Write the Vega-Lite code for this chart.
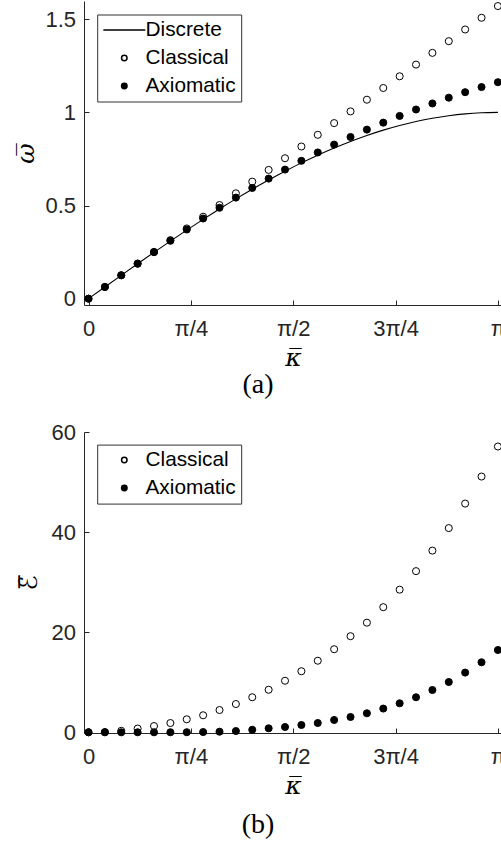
{
  "$schema": "https://vega.github.io/schema/vega-lite/v6.json",
  "padding": {"left": 13, "top": 0, "right": -4, "bottom": 0},
  "autosize": {"type": "pad"},
  "background": "white",
  "spacing": 127,
  "bounds": "flush",
  "resolve": {
    "scale": {"shape": "independent", "fill": "independent", "x": "independent", "y": "independent"},
    "legend": {"shape": "independent", "fill": "independent"}
  },
  "config": {
    "view": {"stroke": null},
    "axis": {
      "grid": false,
      "domainColor": "#262626",
      "tickColor": "#262626",
      "labelColor": "#262626",
      "labelFont": "Liberation Sans",
      "labelFontSize": 22,
      "tickSize": -5,
      "domainWidth": 1,
      "tickWidth": 1,
      "titleFont": "DejaVu Serif",
      "titleFontStyle": "italic",
      "titleFontWeight": "normal",
      "titleFontSize": 25,
      "titleColor": "black",
      "labelFlush": false
    },
    "axisX": {"labelPadding": 18.7, "titlePadding": 6},
    "axisY": {"labelPadding": 13.5},
    "legend": {
      "orient": "none",
      "title": null,
      "strokeColor": "#333333",
      "fillColor": "white",
      "padding": 5,
      "rowPadding": 6,
      "symbolSize": 30,
      "symbolOffset": 11.7,
      "labelOffset": 10.8,
      "labelFont": "Liberation Sans",
      "labelFontSize": 20.8,
      "labelColor": "black"
    },
    "title": {
      "orient": "bottom",
      "font": "Liberation Serif",
      "fontSize": 28,
      "fontWeight": "normal",
      "color": "black",
      "dx": -35,
      "offset": 8,
      "anchor": "middle"
    }
  },
  "datasets": {
    "omega": [
      {"k": 0, "series": "Discrete", "w": 0},
      {"k": 0.04, "series": "Discrete", "w": 0.0628},
      {"k": 0.08, "series": "Discrete", "w": 0.1253},
      {"k": 0.12, "series": "Discrete", "w": 0.1874},
      {"k": 0.16, "series": "Discrete", "w": 0.2487},
      {"k": 0.2, "series": "Discrete", "w": 0.309},
      {"k": 0.24, "series": "Discrete", "w": 0.3681},
      {"k": 0.28, "series": "Discrete", "w": 0.4258},
      {"k": 0.32, "series": "Discrete", "w": 0.4818},
      {"k": 0.36, "series": "Discrete", "w": 0.5358},
      {"k": 0.4, "series": "Discrete", "w": 0.5878},
      {"k": 0.44, "series": "Discrete", "w": 0.6374},
      {"k": 0.48, "series": "Discrete", "w": 0.6845},
      {"k": 0.52, "series": "Discrete", "w": 0.729},
      {"k": 0.56, "series": "Discrete", "w": 0.7705},
      {"k": 0.6, "series": "Discrete", "w": 0.809},
      {"k": 0.64, "series": "Discrete", "w": 0.8443},
      {"k": 0.68, "series": "Discrete", "w": 0.8763},
      {"k": 0.72, "series": "Discrete", "w": 0.9048},
      {"k": 0.76, "series": "Discrete", "w": 0.9298},
      {"k": 0.8, "series": "Discrete", "w": 0.9511},
      {"k": 0.84, "series": "Discrete", "w": 0.9686},
      {"k": 0.88, "series": "Discrete", "w": 0.9823},
      {"k": 0.92, "series": "Discrete", "w": 0.9921},
      {"k": 0.96, "series": "Discrete", "w": 0.998},
      {"k": 1, "series": "Discrete", "w": 1},
      {"k": 0, "series": "Classical", "w": 0},
      {"k": 0.04, "series": "Classical", "w": 0.0628},
      {"k": 0.08, "series": "Classical", "w": 0.1257},
      {"k": 0.12, "series": "Classical", "w": 0.1885},
      {"k": 0.16, "series": "Classical", "w": 0.2513},
      {"k": 0.2, "series": "Classical", "w": 0.3142},
      {"k": 0.24, "series": "Classical", "w": 0.377},
      {"k": 0.28, "series": "Classical", "w": 0.4398},
      {"k": 0.32, "series": "Classical", "w": 0.5027},
      {"k": 0.36, "series": "Classical", "w": 0.5655},
      {"k": 0.4, "series": "Classical", "w": 0.6283},
      {"k": 0.44, "series": "Classical", "w": 0.6912},
      {"k": 0.48, "series": "Classical", "w": 0.754},
      {"k": 0.52, "series": "Classical", "w": 0.8168},
      {"k": 0.56, "series": "Classical", "w": 0.8796},
      {"k": 0.6, "series": "Classical", "w": 0.9425},
      {"k": 0.64, "series": "Classical", "w": 1.0053},
      {"k": 0.68, "series": "Classical", "w": 1.0681},
      {"k": 0.72, "series": "Classical", "w": 1.131},
      {"k": 0.76, "series": "Classical", "w": 1.1938},
      {"k": 0.8, "series": "Classical", "w": 1.2566},
      {"k": 0.84, "series": "Classical", "w": 1.3195},
      {"k": 0.88, "series": "Classical", "w": 1.3823},
      {"k": 0.92, "series": "Classical", "w": 1.4451},
      {"k": 0.96, "series": "Classical", "w": 1.508},
      {"k": 1, "series": "Classical", "w": 1.5708},
      {"k": 0, "series": "Axiomatic", "w": 0},
      {"k": 0.04, "series": "Axiomatic", "w": 0.0628},
      {"k": 0.08, "series": "Axiomatic", "w": 0.1255},
      {"k": 0.12, "series": "Axiomatic", "w": 0.1876},
      {"k": 0.16, "series": "Axiomatic", "w": 0.2495},
      {"k": 0.2, "series": "Axiomatic", "w": 0.3108},
      {"k": 0.24, "series": "Axiomatic", "w": 0.3712},
      {"k": 0.28, "series": "Axiomatic", "w": 0.4305},
      {"k": 0.32, "series": "Axiomatic", "w": 0.488},
      {"k": 0.36, "series": "Axiomatic", "w": 0.5425},
      {"k": 0.4, "series": "Axiomatic", "w": 0.5945},
      {"k": 0.44, "series": "Axiomatic", "w": 0.6445},
      {"k": 0.48, "series": "Axiomatic", "w": 0.693},
      {"k": 0.52, "series": "Axiomatic", "w": 0.74},
      {"k": 0.56, "series": "Axiomatic", "w": 0.785},
      {"k": 0.6, "series": "Axiomatic", "w": 0.827},
      {"k": 0.64, "series": "Axiomatic", "w": 0.868},
      {"k": 0.68, "series": "Axiomatic", "w": 0.9075},
      {"k": 0.72, "series": "Axiomatic", "w": 0.945},
      {"k": 0.76, "series": "Axiomatic", "w": 0.981},
      {"k": 0.8, "series": "Axiomatic", "w": 1.0155},
      {"k": 0.84, "series": "Axiomatic", "w": 1.048},
      {"k": 0.88, "series": "Axiomatic", "w": 1.079},
      {"k": 0.92, "series": "Axiomatic", "w": 1.1085},
      {"k": 0.96, "series": "Axiomatic", "w": 1.136},
      {"k": 1, "series": "Axiomatic", "w": 1.162}
    ],
    "energy": [
      {"k": 0, "series": "Classical", "E": 0},
      {"k": 0.04, "series": "Classical", "E": 0.05},
      {"k": 0.08, "series": "Classical", "E": 0.3},
      {"k": 0.12, "series": "Classical", "E": 0.75},
      {"k": 0.16, "series": "Classical", "E": 1.25},
      {"k": 0.2, "series": "Classical", "E": 1.85},
      {"k": 0.24, "series": "Classical", "E": 2.6},
      {"k": 0.28, "series": "Classical", "E": 3.4},
      {"k": 0.32, "series": "Classical", "E": 4.45},
      {"k": 0.36, "series": "Classical", "E": 5.65},
      {"k": 0.4, "series": "Classical", "E": 7.0},
      {"k": 0.44, "series": "Classical", "E": 8.5},
      {"k": 0.48, "series": "Classical", "E": 10.3},
      {"k": 0.52, "series": "Classical", "E": 12.2},
      {"k": 0.56, "series": "Classical", "E": 14.3},
      {"k": 0.6, "series": "Classical", "E": 16.6},
      {"k": 0.64, "series": "Classical", "E": 19.2},
      {"k": 0.68, "series": "Classical", "E": 21.9},
      {"k": 0.72, "series": "Classical", "E": 25.0},
      {"k": 0.76, "series": "Classical", "E": 28.5},
      {"k": 0.8, "series": "Classical", "E": 32.2},
      {"k": 0.84, "series": "Classical", "E": 36.3},
      {"k": 0.88, "series": "Classical", "E": 40.8},
      {"k": 0.92, "series": "Classical", "E": 45.7},
      {"k": 0.96, "series": "Classical", "E": 51.1},
      {"k": 1, "series": "Classical", "E": 57.1},
      {"k": 0, "series": "Axiomatic", "E": 0},
      {"k": 0.04, "series": "Axiomatic", "E": 0},
      {"k": 0.08, "series": "Axiomatic", "E": 0},
      {"k": 0.12, "series": "Axiomatic", "E": 0},
      {"k": 0.16, "series": "Axiomatic", "E": 0},
      {"k": 0.2, "series": "Axiomatic", "E": 0.01},
      {"k": 0.24, "series": "Axiomatic", "E": 0.02},
      {"k": 0.28, "series": "Axiomatic", "E": 0.05},
      {"k": 0.32, "series": "Axiomatic", "E": 0.12},
      {"k": 0.36, "series": "Axiomatic", "E": 0.25},
      {"k": 0.4, "series": "Axiomatic", "E": 0.5},
      {"k": 0.44, "series": "Axiomatic", "E": 0.8},
      {"k": 0.48, "series": "Axiomatic", "E": 1.06},
      {"k": 0.52, "series": "Axiomatic", "E": 1.46},
      {"k": 0.56, "series": "Axiomatic", "E": 1.86},
      {"k": 0.6, "series": "Axiomatic", "E": 2.46},
      {"k": 0.64, "series": "Axiomatic", "E": 3.06},
      {"k": 0.68, "series": "Axiomatic", "E": 3.8},
      {"k": 0.72, "series": "Axiomatic", "E": 4.74},
      {"k": 0.76, "series": "Axiomatic", "E": 5.79},
      {"k": 0.8, "series": "Axiomatic", "E": 7.0},
      {"k": 0.84, "series": "Axiomatic", "E": 8.45},
      {"k": 0.88, "series": "Axiomatic", "E": 10.05},
      {"k": 0.92, "series": "Axiomatic", "E": 11.93},
      {"k": 0.96, "series": "Axiomatic", "E": 13.99},
      {"k": 1, "series": "Axiomatic", "E": 16.44}
    ]
  },
  "vconcat": [
    {
      "width": 418,
      "height": 304,
      "title": {"text": "(a)", "offset": 0},
      "layer": [
        {
          "data": {"name": "omega"},
          "transform": [{"filter": "datum.series == 'Discrete'"}],
          "mark": {"type": "line", "color": "black", "strokeWidth": 1.1, "interpolate": "monotone"},
          "encoding": {
            "x": {"field": "k", "type": "quantitative", "scale": {"domain": [-0.011, 1.01], "nice": false, "zero": false},
              "axis": {"values": [0, 0.25, 0.5, 0.75, 1], "title": "κ̅",
                "labelExpr": "datum.value == 0 ? '0' : datum.value == 0.25 ? 'π/4' : datum.value == 0.5 ? 'π/2' : datum.value == 0.75 ? '3π/4' : 'π'"}},
            "y": {"field": "w", "type": "quantitative", "scale": {"domain": [-0.034, 1.598], "nice": false, "zero": false},
              "axis": {"values": [0, 0.5, 1, 1.5], "format": "~g", "title": "ω̅", "titleX": -50.8, "titleBaseline": "alphabetic"}}
          }
        },
        {
          "data": {"name": "omega"},
          "transform": [{"filter": "datum.series != 'Discrete'"}],
          "mark": {"type": "point", "filled": true, "stroke": "black", "strokeWidth": 1, "size": 50, "opacity": 1},
          "encoding": {
            "x": {"field": "k", "type": "quantitative"},
            "y": {"field": "w", "type": "quantitative"},
            "shape": {"field": "series", "type": "nominal",
              "scale": {"domain": ["Discrete", "Classical", "Axiomatic"], "range": ["M-7.66,0L7.66,0", "circle", "circle"]},
              "legend": {"legendX": 13.2, "legendY": 13.5,
                "encode": {"symbols": {"update": {"stroke": {"value": "black"}, "strokeWidth": {"value": 1}, "opacity": {"value": 1}}}}}},
            "fill": {"field": "series", "type": "nominal",
              "scale": {"domain": ["Discrete", "Classical", "Axiomatic"], "range": ["black", "white", "black"]},
              "legend": {"legendX": 13.2, "legendY": 13.5,
                "encode": {"symbols": {"update": {"stroke": {"value": "black"}, "strokeWidth": {"value": 1}, "opacity": {"value": 1}}}}}}
          }
        }
      ]
    },
    {
      "width": 418,
      "height": 301,
      "title": {"text": "(b)", "offset": 12},
      "data": {"name": "energy"},
      "mark": {"type": "point", "filled": true, "stroke": "black", "strokeWidth": 1, "size": 50, "opacity": 1},
      "encoding": {
        "x": {"field": "k", "type": "quantitative", "scale": {"domain": [-0.011, 1.01], "nice": false, "zero": false},
          "axis": {"values": [0, 0.25, 0.5, 0.75, 1], "title": "κ̅",
            "labelExpr": "datum.value == 0 ? '0' : datum.value == 0.25 ? 'π/4' : datum.value == 0.5 ? 'π/2' : datum.value == 0.75 ? '3π/4' : 'π'"}},
        "y": {"field": "E", "type": "quantitative", "scale": {"domain": [-0.14, 60], "nice": false, "zero": false},
          "axis": {"values": [0, 20, 40, 60], "title": "ℰ̅", "titleX": -48, "titleBaseline": "alphabetic", "titleFont": "DejaVu Sans", "titleFontStyle": "normal"}},
        "shape": {"field": "series", "type": "nominal",
          "scale": {"domain": ["Classical", "Axiomatic"], "range": ["circle", "circle"]},
          "legend": {"legendX": 13.2, "legendY": 12.6,
            "encode": {"symbols": {"update": {"stroke": {"value": "black"}, "strokeWidth": {"value": 1}, "opacity": {"value": 1}}}}}},
        "fill": {"field": "series", "type": "nominal",
          "scale": {"domain": ["Classical", "Axiomatic"], "range": ["white", "black"]},
          "legend": {"legendX": 13.2, "legendY": 12.6,
            "encode": {"symbols": {"update": {"stroke": {"value": "black"}, "strokeWidth": {"value": 1}, "opacity": {"value": 1}}}}}}
      }
    }
  ]
}
